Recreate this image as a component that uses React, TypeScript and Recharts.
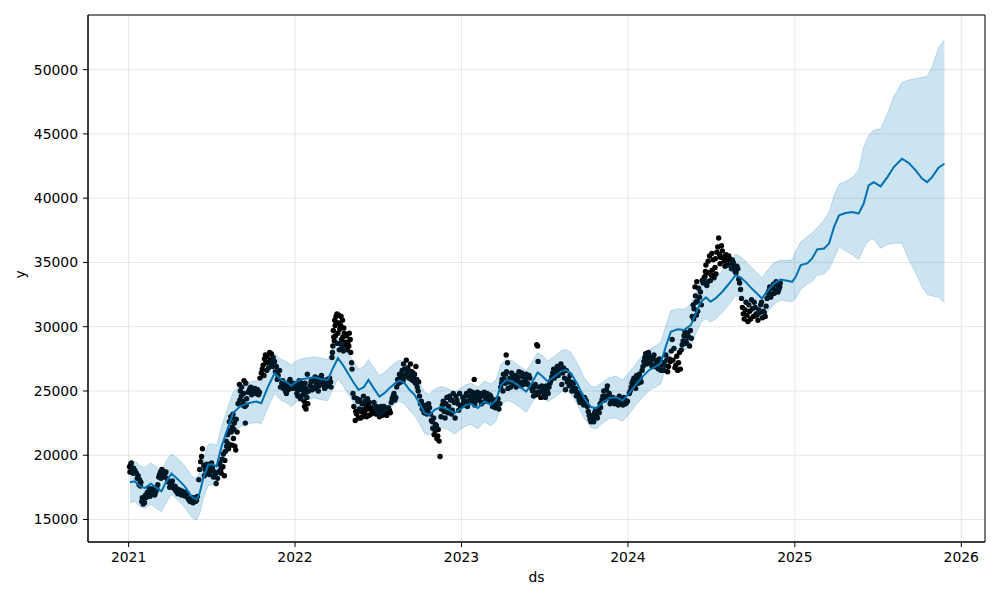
import { ComposedChart, XAxis, YAxis, CartesianGrid, Line, Area, Scatter, ReferenceArea } from "recharts";

// x values are days since 2021-01-01
const yearTicks = [0, 365, 730, 1095, 1461, 1826];
const yearLabels = ["2021", "2022", "2023", "2024", "2025", "2026"];
const yTicks = [15000, 20000, 25000, 30000, 35000, 40000, 45000, 50000];

const fcDays = [
  3, 14, 25, 36, 49, 61, 72, 83, 94, 109,
  123, 138, 149, 156, 164, 175, 185, 193, 204, 215,
  229, 244, 262, 280, 291, 306, 320, 335, 346, 357,
  368, 379, 394, 408, 423, 437, 448, 459, 470, 481,
  492, 504, 516, 526, 536, 550, 561, 572, 583, 594,
  605, 616, 627, 638, 649, 660, 671, 685, 700, 715,
  726, 740, 751, 766, 780, 795, 806, 817, 828, 842,
  857, 872, 882, 897, 908, 919, 934, 948, 959, 970,
  985, 999, 1014, 1025, 1040, 1054, 1069, 1083, 1098, 1112,
  1127, 1142, 1156, 1167, 1178, 1189, 1204, 1218, 1233, 1244,
  1255, 1266, 1276, 1287, 1302, 1317, 1331, 1342, 1353, 1363,
  1378, 1389, 1400, 1415, 1430, 1444, 1455, 1463, 1474, 1488,
  1499, 1510, 1525, 1536, 1547, 1558, 1572, 1587, 1601, 1612,
  1623, 1634, 1649, 1664, 1678, 1696, 1711, 1726, 1740, 1751,
  1762, 1776, 1789,
];

const yhat = [
  17900, 17970, 17580, 17460, 17790, 17460, 17200, 17970, 18570, 18100,
  17580, 16810, 16550, 17070, 18240, 19270, 19270, 19140, 20690, 21850,
  23280, 23790, 24050, 24180, 24050, 25350, 26380, 25860, 25700, 25400,
  25740, 25920, 25990, 26070, 25920, 25860, 26770, 27550, 27030, 26380,
  25740, 25090, 25300, 25860, 25300, 24570, 24830, 25220, 25550, 25810,
  25610, 25090, 24700, 24050, 23280, 23150, 23540, 23750, 23590, 23280,
  23540, 23920, 23990, 23670, 24180, 23920, 24310, 25480, 25860, 25740,
  25350, 24960, 25480, 26430, 26120, 25740, 26120, 26510, 26640, 26380,
  25480, 24440, 23750, 23670, 24100, 24440, 24520, 24250, 24830, 25480,
  26120, 26640, 26900, 27160, 28450, 29610, 29800, 29740, 30130, 31040,
  31940, 32280, 31940, 32200, 32720, 33360, 34010, 33830, 33490, 33100,
  32590, 32200, 32720, 33360, 33670, 33570, 33490, 33880, 34790, 34920,
  35310, 36010, 36080, 36470, 37760, 38670, 38850, 38930, 38800, 39580,
  41000, 41250, 40920, 41640, 42420, 43070, 42730, 42160, 41520, 41250,
  41640, 42370, 42680,
];

const yhatLower = [
  16300, 16400, 16000, 15850, 16200, 15850, 15600, 16350, 16950, 16500,
  15950, 15200, 14950, 15450, 16650, 17650, 17700, 17550, 19100, 20250,
  21650, 22200, 22450, 22550, 22450, 23750, 24800, 24250, 24100, 23800,
  24150, 24300, 24400, 24450, 24300, 24250, 25150, 25950, 25400, 24800,
  24150, 23500, 23700, 24250, 23700, 22950, 23250, 23600, 23950, 24200,
  24000, 23500, 23100, 22450, 21700, 21550, 21950, 22150, 22000, 21650,
  21950, 22300, 22400, 22050, 22600, 22300, 22700, 23900, 24250, 24150,
  23750, 23350, 23900, 24850, 24500, 24150, 24500, 24900, 25050, 24800,
  23900, 22850, 22150, 22050, 22500, 22850, 22900, 22650, 23200, 23900,
  24500, 25050, 25300, 25550, 26850, 28000, 28200, 28150, 28500, 29450,
  30350, 30650, 30350, 30600, 31100, 31750, 32400, 32250, 31900, 31500,
  31000, 30600, 31100, 31750, 32070, 32000, 31950, 32200, 32900, 33300,
  33550, 34000, 34100, 34500, 35300, 36200, 35900, 35600, 35200, 36100,
  36700, 36800, 36100, 36400, 36500, 36500, 35200, 34200, 33100, 32500,
  32400, 32300, 31900,
];

const yhatUpper = [
  19450, 19550, 19200, 19050, 19400, 19100, 18800, 19600, 20100, 19700,
  19200, 18400, 18150, 18700, 19800, 20850, 20900, 20750, 22300, 23450,
  24900, 25400, 25650, 25800, 25650, 26950, 27950, 27450, 27300, 27000,
  27350, 27500, 27600, 27650, 27550, 27450, 28350, 29100, 28650, 28000,
  27350, 26700, 26900, 27450, 26900, 26200, 26450, 26800, 27150, 27400,
  27200, 26700, 26300, 25650, 24900, 24750, 25150, 25350, 25200, 24900,
  25150, 25500, 25600, 25300, 25750, 25550, 25900, 27100, 27450, 27350,
  26950, 26550, 27100, 28000, 27750, 27350, 27700, 28100, 28250, 28000,
  27100, 26050, 25350, 25300, 25700, 26050, 26150, 25850, 26450, 27100,
  27750, 28250, 28500, 28800, 30050, 31250, 31400, 31350, 31750, 32650,
  33550, 33900, 33550, 33800, 34350, 34950, 35650, 35450, 35100, 34700,
  34200, 33800, 34350, 34950, 35180, 35150, 35200, 35900, 36600, 37000,
  37300, 37700, 38300, 38900, 40200, 41100, 41300, 41600, 42200, 44000,
  44900, 45300, 45400, 46600, 47900, 49000, 49200, 49300, 49400, 49500,
  50200, 51700, 52300,
];

// observed values, [day, value]
const obs2021 = [
  [2, 19100], [3, 18700], [5, 19300], [6, 19400], [8, 18900], [10, 18600], [11, 19000], [14, 18800],
  [17, 18600], [19, 18200], [21, 18400], [23, 17700], [24, 18100], [26, 17600], [27, 17900], [29, 16400],
  [30, 16700], [32, 16200], [33, 16500], [35, 16300], [37, 16900], [38, 16700], [40, 16800], [41, 17100],
  [44, 16900], [45, 17400], [47, 16800], [48, 17300], [51, 17000], [52, 17400], [55, 17200], [57, 16900],
  [58, 17000], [60, 17200], [62, 17400], [64, 17700], [66, 18300], [68, 18500], [70, 18700], [71, 18200],
  [73, 18900], [75, 18800], [77, 18500], [79, 18300], [80, 18600], [82, 18700], [84, 18200], [86, 18000],
  [88, 17900], [90, 17500], [92, 17600], [94, 17800], [96, 18000], [98, 17500], [100, 17400], [102, 17600],
  [104, 17200], [106, 17400], [108, 17000], [110, 17200], [112, 17300], [114, 17000], [116, 16900], [118, 17200],
  [120, 17100], [122, 16900], [124, 16800], [126, 17100], [128, 17000], [131, 16600], [133, 16500], [135, 16400],
  [137, 16700], [139, 16500], [141, 16300], [143, 16700], [145, 16600], [147, 16400], [149, 16500], [151, 16800],
  [154, 18100], [156, 18900], [158, 19500], [160, 19900], [162, 20500], [165, 19200], [166, 18400], [168, 18900],
  [170, 18700], [171, 19300], [174, 19000], [177, 18500], [178, 19300], [180, 18800], [182, 19400], [184, 19000],
  [186, 18300], [188, 18700], [190, 18500], [192, 17800], [195, 18200], [197, 18700], [199, 19300], [200, 19400],
  [202, 18900], [203, 18600], [205, 19700], [207, 19100], [208, 20100], [210, 18400], [211, 19600], [212, 20300],
  [214, 21100], [215, 20700], [217, 21600], [218, 20900], [219, 20500], [221, 22600], [222, 21900], [224, 23000],
  [225, 21800], [226, 20800], [227, 22200], [228, 22900], [229, 23200], [230, 21300], [231, 22000], [232, 22500],
  [233, 20700], [235, 20400], [236, 22800], [238, 21800], [240, 24000], [243, 25500], [244, 24300], [245, 25000],
  [247, 24600], [248, 25300], [250, 23900], [251, 24200], [252, 24800], [253, 25800], [255, 23800], [256, 22500],
  [257, 25600], [258, 23900], [259, 24400], [262, 24900], [264, 25000], [266, 25200], [268, 25300], [270, 24700],
  [272, 24900], [275, 25000], [277, 25200], [279, 24800], [281, 25000], [283, 25100], [285, 24700], [287, 24900],
  [288, 26000], [291, 26400], [293, 26700], [295, 27000], [297, 26200], [298, 27500], [300, 27800], [301, 27200],
  [303, 26600], [304, 27700], [306, 27200], [307, 26800], [309, 28000], [310, 27400], [312, 27100], [313, 27900],
  [316, 26900], [317, 27600], [320, 27300], [322, 26500], [324, 26900], [326, 25900], [328, 26200], [331, 26600],
  [333, 25300], [336, 25600], [338, 25800], [340, 25200], [342, 25500], [344, 25000], [346, 24800], [348, 25400],
  [350, 25100], [352, 25700], [354, 25900], [356, 25400], [358, 25200], [360, 25600], [362, 25500], [364, 25300],
];

const obs2022 = [
  [366, 25200], [368, 25400], [369, 24800], [371, 24600], [372, 25500], [374, 25800], [375, 25100], [377, 24400],
  [378, 24600], [380, 25600], [381, 25300], [383, 24700], [384, 25000], [385, 24200], [386, 23800], [387, 25600],
  [388, 25200], [389, 23600], [390, 24900], [391, 24500], [392, 26300], [393, 24000], [395, 25000], [398, 25400],
  [400, 25700], [402, 25900], [403, 25100], [405, 25300], [407, 25800], [409, 26100], [411, 25200], [412, 25600],
  [414, 26000], [416, 25000], [418, 25400], [419, 25800], [421, 25700], [423, 26200], [425, 25900], [426, 25500],
  [428, 25600], [430, 25200], [432, 25300], [434, 25700], [436, 25900], [437, 25400], [439, 25600], [441, 26000],
  [443, 25700], [444, 25300], [446, 27600], [447, 28000], [448, 28500], [449, 29700], [450, 29200], [451, 28900],
  [452, 30500], [453, 30100], [454, 29300], [455, 30800], [456, 30300], [457, 31000], [458, 28700], [459, 29500],
  [460, 30300], [461, 30900], [462, 28200], [463, 29800], [464, 28700], [465, 30100], [466, 30800], [467, 29000],
  [468, 28400], [469, 30500], [470, 29200], [471, 28100], [472, 29900], [473, 29500], [474, 28500], [476, 28800],
  [478, 29300], [480, 28200], [481, 28800], [483, 28500], [484, 29500], [486, 29000], [487, 28000], [489, 27200],
  [490, 26700], [492, 24800], [494, 23800], [495, 24500], [497, 22700], [498, 23400], [500, 23200], [501, 24400],
  [503, 24200], [504, 22900], [506, 23600], [507, 24300], [509, 22900], [510, 23400], [512, 24000], [513, 23000],
  [515, 24600], [516, 23600], [518, 23300], [519, 24200], [521, 23900], [522, 23000], [524, 24400], [525, 23600],
  [527, 23100], [528, 24100], [530, 23700], [532, 23200], [534, 23400], [536, 23700], [538, 24100], [540, 23500],
  [542, 23200], [544, 23800], [546, 23600], [548, 23300], [550, 23000], [552, 23500], [554, 23800], [556, 23100],
  [558, 23300], [560, 23800], [562, 23500], [564, 23600], [566, 23100], [568, 23300], [570, 23700], [572, 23500],
  [574, 23300], [576, 24100], [578, 24400], [580, 24600], [582, 24800], [584, 24300], [586, 24500], [588, 25300],
  [590, 25900], [592, 25600], [594, 26300], [595, 26000], [597, 25700], [599, 26200], [600, 26600], [602, 25800],
  [603, 27100], [605, 26700], [606, 26200], [608, 26100], [609, 27400], [611, 26400], [612, 26800], [614, 26600],
  [615, 26000], [617, 26200], [618, 27100], [620, 25900], [621, 26500], [623, 26400], [624, 25800], [626, 26000],
  [627, 26300], [629, 25600], [630, 26900], [632, 25900], [633, 25300], [635, 25000], [636, 25700], [638, 24600],
  [640, 24000], [642, 24200], [644, 23600], [646, 23900], [648, 23300], [650, 23600], [652, 23900], [654, 23200],
  [656, 23400], [658, 24000], [660, 23700], [662, 23200], [664, 22700], [666, 22600], [667, 22100], [669, 22900],
  [670, 21600], [672, 21900], [673, 22400], [675, 22300], [676, 21300], [678, 21500], [679, 22000], [681, 21100],
  [683, 19900], [685, 23000], [686, 23600], [688, 23900], [690, 24200], [692, 23400], [694, 22900], [696, 24000],
  [698, 24500], [700, 23300], [702, 23800], [704, 24600], [706, 24300], [708, 23200], [709, 24300], [710, 23500],
  [712, 24800], [714, 24100], [716, 22900], [718, 24600], [720, 24300], [722, 24000], [724, 23500], [726, 24800],
  [728, 23800],
];

const obs2023 = [
  [731, 23900], [733, 24500], [735, 24200], [737, 23900], [739, 24600], [741, 24800], [743, 23800], [744, 24200],
  [746, 24600], [748, 25000], [750, 24100], [752, 24400], [754, 24900], [755, 24700], [757, 24300], [758, 25900],
  [759, 23900], [761, 24200], [763, 24600], [765, 24900], [768, 24300], [770, 24500], [772, 24800], [774, 24000],
  [776, 24100], [778, 24600], [780, 24900], [782, 24200], [784, 24500], [786, 24800], [788, 24200], [790, 24300],
  [792, 24700], [794, 24600], [796, 24400], [798, 23800], [800, 24000], [802, 24300], [804, 23700], [806, 23900],
  [808, 24100], [810, 24400], [812, 23600], [814, 24000], [816, 25300], [818, 25600], [819, 25900], [821, 25000],
  [822, 26300], [824, 25900], [826, 25600], [827, 26300], [828, 27800], [829, 26500], [831, 27200], [832, 25200],
  [834, 25700], [836, 26000], [838, 25300], [840, 26400], [842, 26100], [844, 25500], [846, 25900], [848, 26200],
  [850, 25300], [852, 25800], [854, 26100], [856, 26500], [858, 25700], [860, 25400], [862, 26400], [864, 26100],
  [866, 25500], [868, 25700], [870, 25900], [872, 26300], [874, 25600], [876, 25500], [878, 26200], [880, 26000],
  [882, 25400], [884, 25200], [886, 25000], [888, 24600], [890, 25300], [892, 25500], [894, 24700], [895, 28600],
  [896, 24900], [897, 28500], [898, 27300], [900, 25300], [902, 24900], [904, 24500], [906, 25400], [908, 25100],
  [910, 25000], [912, 24700], [914, 24500], [916, 25400], [918, 25100], [920, 24800], [922, 25300], [924, 25600],
  [926, 25800], [928, 26100], [930, 26400], [932, 26700], [934, 26000], [936, 26300], [938, 26600], [940, 26900],
  [942, 26200], [944, 26500], [946, 26700], [948, 27100], [950, 25500], [952, 26400], [954, 26800], [956, 26000],
  [958, 25100], [960, 26600], [962, 25700], [964, 25900], [966, 25400], [968, 26200], [970, 25700], [972, 25000],
  [974, 25300], [976, 25600], [978, 25000], [980, 25200], [982, 24600], [984, 24900], [986, 24600], [988, 24300],
  [990, 24100], [992, 24700], [994, 24400], [996, 24100], [998, 23900], [1000, 24500], [1002, 24300], [1004, 24200],
  [1006, 23800], [1008, 23400], [1010, 23100], [1012, 22800], [1014, 22600], [1016, 23100], [1018, 22900], [1020, 22600],
  [1022, 23300], [1024, 23500], [1026, 23000], [1028, 22900], [1030, 23600], [1032, 23300], [1034, 24000], [1035, 23700],
  [1038, 24300], [1040, 24600], [1042, 25000], [1044, 24300], [1046, 24600], [1048, 25100], [1050, 25400], [1052, 24500],
  [1054, 24800], [1056, 24000], [1058, 24200], [1060, 24300], [1062, 24500], [1064, 24200], [1066, 24000], [1068, 24300],
  [1070, 24400], [1072, 24100], [1074, 23900], [1076, 24600], [1078, 24300], [1080, 24200], [1082, 24100], [1084, 23900],
  [1086, 24500], [1088, 24300], [1090, 24000], [1092, 24100], [1094, 24200],
];

const obs2024 = [
  [1098, 24800], [1100, 25000], [1102, 25300], [1104, 25600], [1106, 25800], [1108, 26000], [1110, 25500], [1112, 25200],
  [1114, 26200], [1116, 25900], [1118, 25600], [1120, 26300], [1122, 26000], [1124, 25700], [1126, 26600], [1128, 26900],
  [1130, 27300], [1132, 27600], [1134, 27900], [1136, 27100], [1138, 27400], [1140, 28000], [1142, 27700], [1144, 27300],
  [1146, 27100], [1148, 26900], [1150, 27500], [1152, 27800], [1154, 26900], [1156, 27400], [1158, 27200], [1160, 26800],
  [1162, 26700], [1164, 27500], [1166, 27300], [1168, 26600], [1170, 27000], [1172, 27200], [1174, 26600], [1176, 27000],
  [1178, 27800], [1180, 27400], [1182, 26500], [1184, 26900], [1186, 27500], [1188, 27300], [1190, 28100], [1192, 29000],
  [1194, 27400], [1196, 28300], [1198, 26800], [1200, 27000], [1202, 27700], [1204, 26600], [1206, 27200], [1208, 28000],
  [1210, 26700], [1212, 28200], [1214, 28600], [1216, 28900], [1218, 29300], [1220, 29600], [1222, 28900], [1224, 28700],
  [1226, 29500], [1228, 29200], [1230, 28500], [1232, 29700], [1234, 29100], [1236, 30800], [1238, 31700], [1239, 30600],
  [1240, 31400], [1242, 33100], [1243, 32400], [1244, 31900], [1245, 30900], [1246, 33500], [1247, 32000], [1248, 31200],
  [1250, 33000], [1252, 32300], [1254, 32700], [1256, 31700], [1258, 33600], [1260, 33400], [1262, 33800], [1264, 33900],
  [1265, 34300], [1266, 34800], [1268, 33200], [1270, 33500], [1271, 35100], [1272, 34200], [1274, 35500], [1276, 33600],
  [1278, 34000], [1279, 35700], [1280, 34400], [1282, 35200], [1284, 33800], [1286, 34600], [1287, 35300], [1288, 34100],
  [1290, 35800], [1292, 36200], [1294, 36900], [1296, 35600], [1297, 34900], [1298, 35400], [1300, 36300], [1302, 35900],
  [1304, 35400], [1306, 35100], [1308, 34700], [1310, 35600], [1312, 35200], [1314, 34800], [1316, 35500], [1318, 35300],
  [1320, 34900], [1322, 34500], [1324, 35200], [1326, 35000], [1328, 34700], [1330, 34300], [1332, 34200], [1334, 34700],
  [1336, 34500], [1338, 33700], [1340, 33400], [1342, 32900], [1344, 32200], [1346, 31500], [1348, 31000], [1350, 30600],
  [1352, 31300], [1354, 31900], [1356, 30900], [1358, 30400], [1360, 31700], [1362, 31200], [1364, 30600], [1366, 32100],
  [1368, 31400], [1370, 30800], [1372, 31900], [1374, 31500], [1376, 31000], [1378, 30900], [1380, 30500], [1382, 31300],
  [1384, 31100], [1386, 31700], [1388, 31900], [1390, 30700], [1392, 31200], [1394, 31100], [1396, 30800], [1398, 31600],
  [1400, 32200], [1402, 32600], [1404, 32800], [1406, 33100], [1408, 32300], [1410, 32500], [1412, 33000], [1414, 33300],
  [1416, 32600], [1418, 32800], [1420, 33500], [1422, 33200], [1424, 32700], [1426, 32900], [1428, 33100], [1429, 33400],
];

const forecast = fcDays.map((x, i) => ({ x, yhat: yhat[i], band: [yhatLower[i], yhatUpper[i]] }));
const observed = [...obs2021, ...obs2022, ...obs2023, ...obs2024].map(([x, y]) => ({ x, y }));

const font = { fontFamily: "DejaVu Sans", fontSize: 13.9, fill: "#000" };
const xDomain = [-89, 1878];
const yDomain = [13250, 54250];

const Dot = (props: any) => <circle cx={props.cx} cy={props.cy} r={2.7} fill="#000" />;

export default function App() {
  return (
    <div style={{ position: "absolute", left: 0, top: 0, width: 1000, height: 600, background: "#fff" }}>
      <ComposedChart width={1000} height={600} data={forecast} margin={{ top: 15, right: 15, bottom: 0, left: 0 }}>
        <CartesianGrid stroke="#e6e6e6" strokeWidth={1} />
        <XAxis
          dataKey="x"
          type="number"
          domain={xDomain}
          allowDataOverflow
          ticks={yearTicks}
          tickFormatter={(v: number) => yearLabels[yearTicks.indexOf(v)]}
          height={58}
          tickSize={5}
          tickMargin={5}
          tick={font}
          axisLine={{ stroke: "#000" }}
          tickLine={{ stroke: "#000" }}
          label={{ value: "ds", position: "insideBottom", offset: 18, ...font }}
        />
        <YAxis
          type="number"
          domain={yDomain}
          allowDataOverflow
          ticks={yTicks}
          width={88}
          tickSize={5}
          tickMargin={5}
          tick={font}
          axisLine={{ stroke: "#000" }}
          tickLine={{ stroke: "#000" }}
          label={{ value: "y", angle: -90, position: "insideLeft", offset: 20, ...font }}
        />
        <Scatter data={observed} dataKey="y" shape={Dot} isAnimationActive={false} zIndex={80} />
        <Line
          dataKey="yhat"
          type="linear"
          stroke="#0072B2"
          strokeWidth={2}
          dot={false}
          activeDot={false}
          isAnimationActive={false}
          zIndex={90}
        />
        <Area
          dataKey="band"
          type="linear"
          fill="#0072B2"
          fillOpacity={0.2}
          stroke="#0072B2"
          strokeOpacity={0.2}
          strokeWidth={1}
          dot={false}
          activeDot={false}
          isAnimationActive={false}
          zIndex={100}
        />
        <ReferenceArea x1={xDomain[0]} x2={xDomain[1]} y1={yDomain[0]} y2={yDomain[1]} fill="none" stroke="#000" strokeWidth={1} />
      </ComposedChart>
    </div>
  );
}
